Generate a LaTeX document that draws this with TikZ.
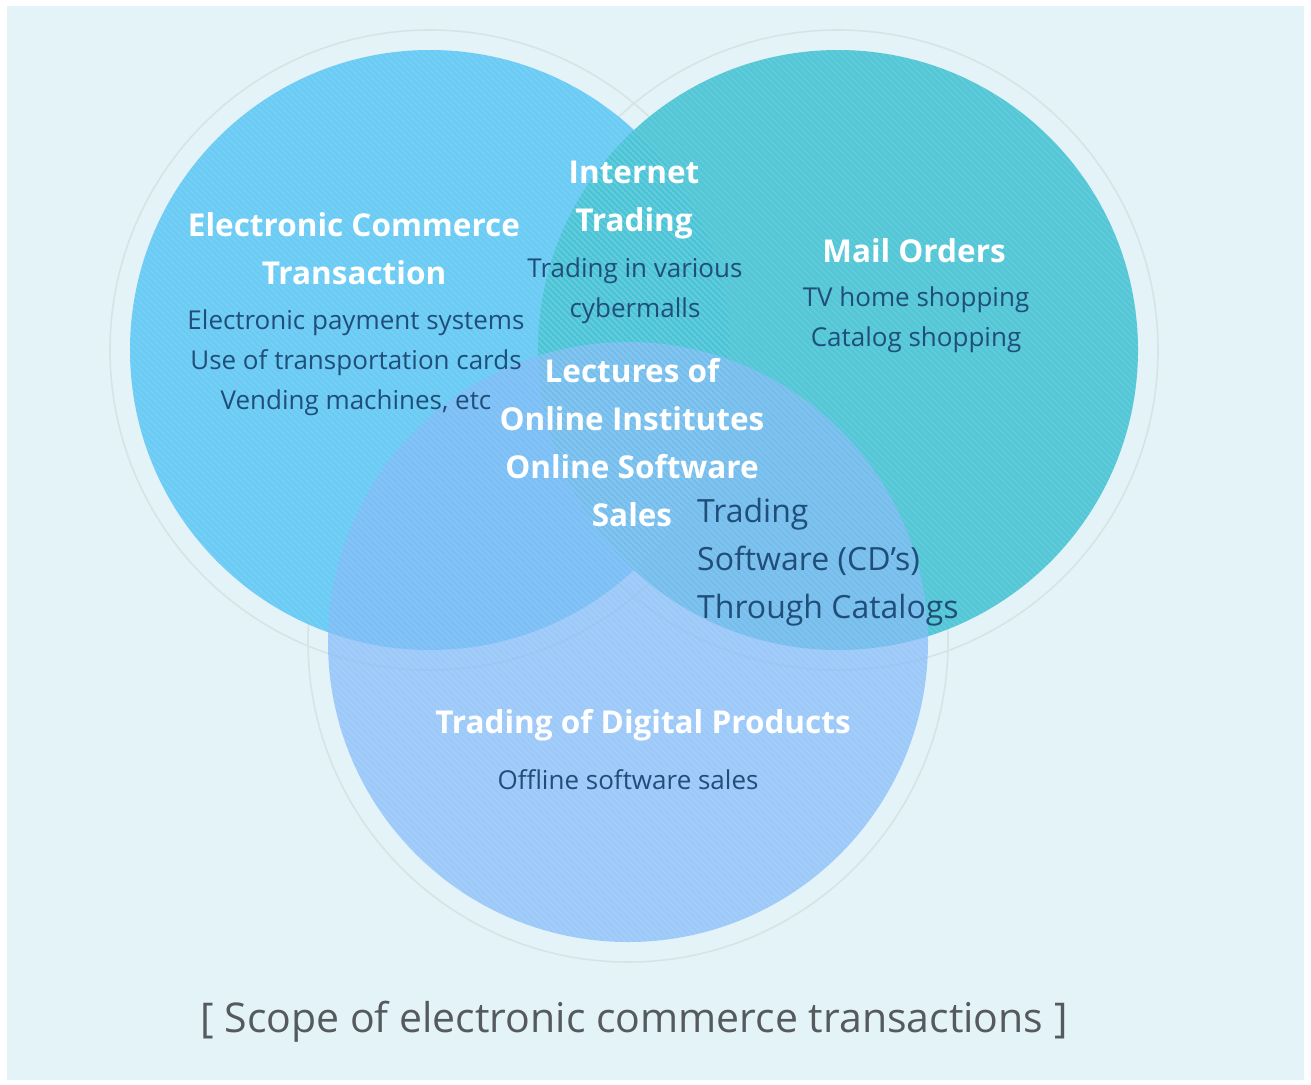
\documentclass[tikz,border=0pt]{standalone}
\usepackage{fontspec}
\setmainfont{Open Sans}
\definecolor{bgpanel}{RGB}{228,243,248}
\definecolor{cleft}{RGB}{106,203,244}
\definecolor{cright}{RGB}{72,196,212}
\definecolor{cbottom}{RGB}{126,184,248}
\definecolor{ringcol}{RGB}{214,228,230}
\definecolor{darktxt}{RGB}{32,78,122}
\definecolor{captxt}{RGB}{85,90,95}
\tikzset{
  ring/.style={draw=ringcol, line width=1.6pt},
  head/.style={text=white, font=\bfseries\fontsize{31.5}{48}\selectfont, align=center, inner sep=0pt},
  body/.style={text=darktxt, font=\fontsize{26}{40}\selectfont, align=center, inner sep=0pt},
  bodyl/.style={text=darktxt, font=\fontsize{32}{48}\selectfont, align=left, inner sep=0pt},
  stripeline/.style={draw=white, line width=1.3pt, draw opacity=0.10}
}
\newcommand{\stripecircle}[2]{%
  \begin{scope}
    \clip (#1,#2) circle (300);
    \foreach \t in {-620,-614,...,620} {
      \draw[stripeline] ({#1+\t-310},{#2-310}) -- ++(620,620);
    }
  \end{scope}}
\begin{document}
\begin{tikzpicture}[x=1pt,y=-1pt]
\useasboundingbox (0,0) rectangle (1311,1084);
\fill[white] (0,0) rectangle (1311,1084);
\fill[bgpanel] (7,6) rectangle (1304,1080);
% outer rings
\draw[ring] (430,350) circle (320);
\draw[ring] (838,350) circle (320);
\draw[ring] (628,642) circle (320);
% circles
\fill[cleft] (430,350) circle (300);
\fill[cright, fill opacity=0.92] (838,350) circle (300);
\fill[cbottom, fill opacity=0.70] (628,642) circle (300);
\stripecircle{430}{350}
\stripecircle{838}{350}
\stripecircle{628}{642}
% texts
\node[head] (ect) at (354,249) {Electronic Commerce\\Transaction};
\node[body] (ecb) at (356,363) {Electronic payment systems\\Use of transportation cards\\Vending machines, etc};
\node[head] (itt) at (634,200) {Internet\\Trading};
\node[body] (itb) at (635,291) {Trading in various\\cybermalls};
\node[head] (mot) at (914,251) {Mail Orders};
\node[body] (mob) at (916,320) {TV home shopping\\Catalog shopping};
\node[head] (cen) at (632,443) {Lectures of\\Online Institutes\\Online Software\\Sales};
\node[bodyl, anchor=west] (tsc) at (697,562) {Trading\\Software (CD’s)\\Through Catalogs};
\node[head] (tdp) at (643,725) {Trading of Digital Products};
\node[body] (tdb) at (628,780) {Offline software sales};
\node[text=captxt, font=\fontsize{41}{50}\selectfont, inner sep=0pt] (cap) at (634,1022) {[ Scope of electronic commerce transactions ]};
\end{tikzpicture}
\end{document}
